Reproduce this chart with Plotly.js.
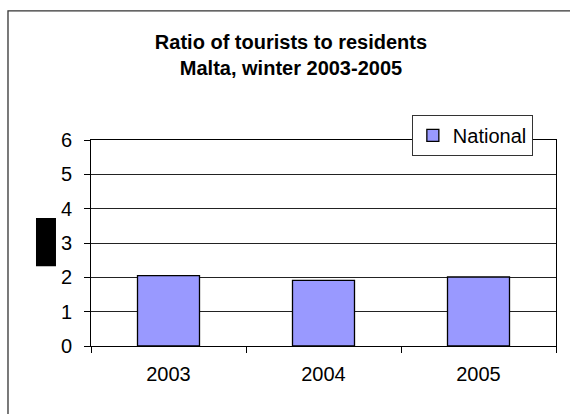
<!DOCTYPE html>
<html>
<head>
<meta charset="utf-8">
<script src="https://cdn.plot.ly/plotly-3.0.1.min.js"></script>
<style>html,body{margin:0;padding:0;background:#fff}#chart{width:570px;height:414px}</style>
</head>
<body>
<div id="chart"></div>
<script>
var years = ['2003', '2004', '2005'];
var national = [2.05, 1.91, 2.01];
var seriesName = 'National';
var yTicks = [0, 1, 2, 3, 4, 5, 6];
var chartTitle = 'Ratio of tourists to residents<br>Malta, winter 2003-2005';

var FONT = '"Liberation Sans", Arial, sans-serif';

var data = [{
  type: 'bar',
  x: years,
  y: national,
  name: seriesName,
  marker: {color: '#9999FF', line: {color: '#000000', width: 1.3}},
  showlegend: true
}];

var layout = {
  width: 570, height: 414,
  margin: {l: 91, r: 14, t: 140, b: 68},
  paper_bgcolor: '#ffffff',
  plot_bgcolor: '#ffffff',
  font: {family: FONT, size: 20, color: '#000'},
  title: {
    text: chartTitle,
    font: {family: FONT, size: 20, color: '#000', weight: 'bold'},
    x: 0.5105, xref: 'container', xanchor: 'center',
    y: 0.882, yref: 'container', yanchor: 'middle'
  },
  bargap: 0.6,
  xaxis: {
    type: 'category',
    showline: true, linecolor: '#000', linewidth: 1,
    mirror: true,
    ticks: 'outside', ticklen: 6, tickcolor: '#000', tickwidth: 1,
    tickson: 'boundaries',
    showgrid: false,
    ticklabelstandoff: 10,
    tickfont: {family: FONT, size: 20, color: '#000'},
    fixedrange: true
  },
  yaxis: {
    range: [0, 6],
    tickvals: yTicks,
    showline: true, linecolor: '#000', linewidth: 1,
    mirror: true,
    ticks: 'outside', ticklen: 6, tickcolor: '#000', tickwidth: 1,
    showgrid: true, gridcolor: '#222', gridwidth: 1,
    zeroline: false,
    ticklabelstandoff: 8,
    tickfont: {family: FONT, size: 20, color: '#000'},
    fixedrange: true
  },
  showlegend: true,
  legend: {
    x: 0.69, xanchor: 'left', xref: 'paper',
    y: 1.1216, yanchor: 'top', yref: 'paper',
    bgcolor: '#ffffff', bordercolor: '#333', borderwidth: 1,
    font: {family: FONT, size: 20, color: '#000'}
  },
  shapes: [
    {type: 'rect', xref: 'paper', yref: 'paper', x0: -0.1785, x1: 1.06, y0: -0.40, y1: 1.627,
     line: {color: '#333', width: 1.3}, fillcolor: 'rgba(0,0,0,0)', layer: 'below'},
    {type: 'rect', xref: 'paper', yref: 'paper', x0: -0.1183, x1: -0.0753, y0: 0.3875, y1: 0.6208,
     line: {width: 0}, fillcolor: '#000000', layer: 'above'}
  ]
};

Plotly.newPlot('chart', data, layout, {displayModeBar: false, staticPlot: true});
</script>
</body>
</html>
